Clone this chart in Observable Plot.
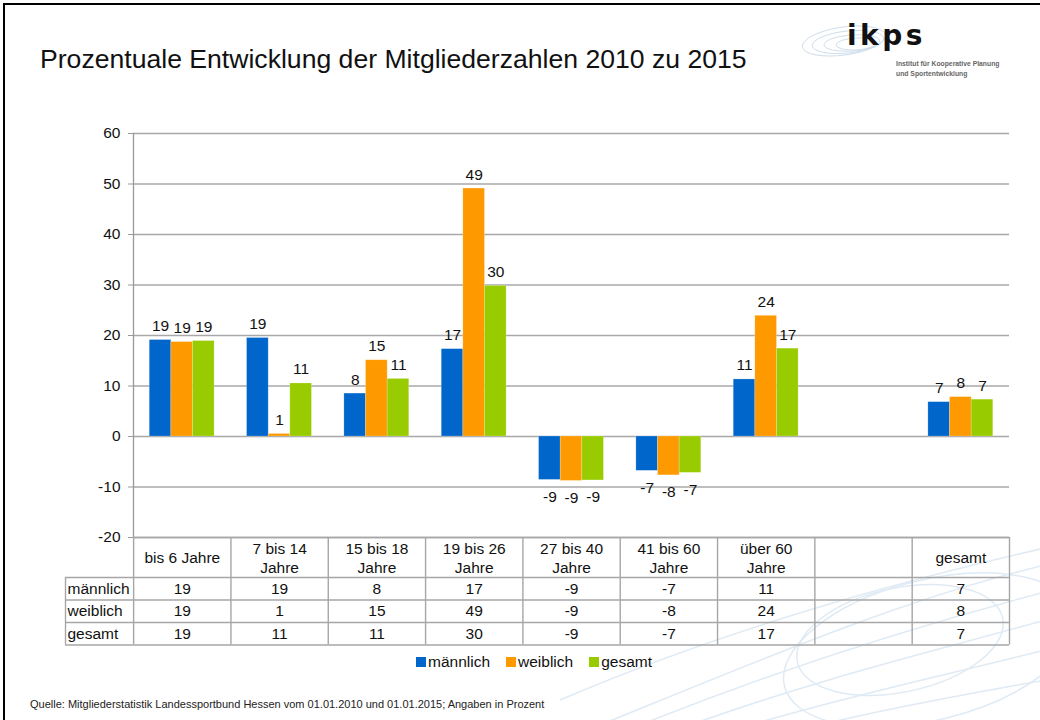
<!DOCTYPE html>
<html><head><meta charset="utf-8">
<script src="https://cdn.jsdelivr.net/npm/d3@7"></script>
<script src="https://cdn.jsdelivr.net/npm/@observablehq/plot@0.6"></script>
<style>
body{margin:0;background:#fff;font-family:"Liberation Sans",Arial,sans-serif;}
#page{position:relative;width:1040px;height:720px;overflow:hidden;background:#fff;}
#bg{position:absolute;left:0;top:0;}
#title{position:absolute;left:40px;top:44px;font-size:26.6px;color:#111;white-space:nowrap;}
#logo{position:absolute;left:800px;top:10px;width:240px;height:80px;}
#chart{position:absolute;left:0;top:100px;}
#table{position:absolute;left:0;top:536px;}
#legend{position:absolute;left:416px;top:653px;display:flex;align-items:center;font-size:15.5px;color:#111;}
#legend .it{display:flex;align-items:center;margin-right:16px;}
#legend .sw{width:10px;height:10px;margin-right:2px;}
#source{position:absolute;left:30px;top:698px;font-size:11px;color:#222;white-space:nowrap;}
#border{position:absolute;left:3px;top:3px;width:1100px;height:800px;border-left:2px solid #000;border-top:2px solid #000;}
</style></head><body>
<div id="page">
  <svg id="bg" width="1040" height="720">
    <g fill="none" stroke="#b9d2e8" stroke-width="1.5" opacity="0.45">
      <path d="M600,725 C760,660 900,600 1045,565"/>
      <path d="M640,725 C790,665 920,625 1045,592"/>
      <path d="M690,725 C830,675 940,650 1045,620"/>
      <path d="M750,725 C870,690 960,672 1045,650"/>
      <path d="M820,725 C900,705 980,692 1045,680"/>
      <path d="M560,700 C700,640 860,590 1045,548"/>
      <ellipse cx="900" cy="640" rx="105" ry="52" transform="rotate(-12 900 640)"/>
      <ellipse cx="930" cy="650" rx="150" ry="70" transform="rotate(-14 930 650)"/>
    </g>
  </svg>
  <div id="border"></div>
  <div id="title">Prozentuale Entwicklung der Mitgliederzahlen 2010 zu 2015</div>
  <svg id="logo" width="240" height="80">
    <g fill="none" stroke="#b5cde2" stroke-width="0.9" opacity="0.7">
      <ellipse cx="48" cy="32" rx="36" ry="11" transform="rotate(-6 48 32)"/>
      <ellipse cx="52" cy="33" rx="28" ry="8" transform="rotate(-4 52 33)"/>
      <ellipse cx="44" cy="31" rx="42" ry="14" transform="rotate(-8 44 31)"/>
      <ellipse cx="56" cy="34" rx="20" ry="6" transform="rotate(-3 56 34)"/>
    </g>
    <text x="47" y="35" font-family="DejaVu Sans, sans-serif" font-weight="bold" font-size="28" letter-spacing="3.5" fill="#111">ikps</text>
    <text x="96" y="56" font-family="Liberation Sans, Arial, sans-serif" font-weight="bold" font-size="6.8" fill="#666">Institut für Kooperative Planung</text>
    <text x="96" y="66" font-family="Liberation Sans, Arial, sans-serif" font-weight="bold" font-size="6.8" fill="#666">und Sportentwicklung</text>
  </svg>
  <div id="chart"></div>
  <div id="table"></div>
  <div id="legend"></div>
  <div id="source">Quelle: Mitgliederstatistik Landessportbund Hessen vom 01.01.2010 und 01.01.2015; Angaben in Prozent</div>
</div>
<script>
// ---- data ----
const categories = ["bis 6 Jahre", "7 bis 14\nJahre", "15 bis 18\nJahre", "19 bis 26\nJahre", "27 bis 40\nJahre", "41 bis 60\nJahre", "über 60\nJahre", "", "gesamt"];
const seriesNames = ["männlich", "weiblich", "gesamt"];
const maennlich = [19.1, 19.5, 8.5, 17.3, -8.6, -6.8, 11.3, null, 6.8];
const weiblich  = [18.7, 0.5, 15.1, 49.1, -8.8, -7.7, 23.9, null, 7.8];
const gesamt    = [18.9, 10.5, 11.4, 29.8, -8.7, -7.2, 17.4, null, 7.3];
const labelsMaennlich = [19, 19, 8, 17, -9, -7, 11, null, 7];
const labelsWeiblich  = [19, 1, 15, 49, -9, -8, 24, null, 8];
const labelsGesamt    = [19, 11, 11, 30, -9, -7, 17, null, 7];
const yTicks = [-20, -10, 0, 10, 20, 30, 40, 50, 60];
const colors = ["#0066CC", "#FF9900", "#99CC00"];

const seriesValues = [maennlich, weiblich, gesamt];
const seriesLabels = [labelsMaennlich, labelsWeiblich, labelsGesamt];

// layout of a category slot (in slot units)
const groupOffset = 0.1667, barW = 0.2222;
const font = "Liberation Sans, Arial, sans-serif";

const rows = [];
categories.forEach((c, i) => {
  seriesNames.forEach((s, k) => {
    const v = seriesValues[k][i];
    if (v == null) return;
    rows.push({i, cat: c, series: s, k, value: v, label: seriesLabels[k][i]});
  });
});

const x1 = d => d.i + groupOffset + d.k * barW;
const x2 = d => d.i + groupOffset + (d.k + 1) * barW;
const xc = d => d.i + groupOffset + (d.k + 0.5) * barW;

const chart = Plot.plot({
  width: 1040, height: 447,
  marginTop: 33, marginBottom: 10, marginLeft: 133, marginRight: 31,
  style: {background: "transparent", fontFamily: font, fontSize: "15.5px", color: "#111", overflow: "visible"},
  x: {type: "linear", domain: [0, categories.length], axis: null},
  y: {domain: [-20, 60], axis: null},
  color: {domain: seriesNames, range: colors},
  marks: [
    Plot.ruleY(yTicks, {stroke: "#a8a8a8", strokeWidth: 1.3}),
    Plot.axisY({ticks: yTicks, label: null, tickSize: 5, tickPadding: 8, tickFormat: d => String(d), stroke: "#999", fontSize: 15.5, fill: "#111"}),
    Plot.ruleX([0], {y1: -20, y2: 60, stroke: "#999", strokeWidth: 1.3}),
    Plot.rectY(rows, {x1, x2, y1: 0, y2: "value", fill: "series", stroke: "#fff", strokeOpacity: 0.35, strokeWidth: 0.6}),
    Plot.text(rows.filter(d => d.value >= 0), {x: xc, y: "value", text: d => String(d.label), dy: -14, fontSize: 15.5, fill: "#111"}),
    Plot.text(rows.filter(d => d.value < 0), {x: xc, y: "value", text: d => String(d.label), dy: 17, fontSize: 15.5, fill: "#111"})
  ]
});
document.getElementById("chart").appendChild(chart);

// ---- table ----
const rowLabelWidth = 0.7;           // slot units
const headerUnits = 1.78;            // header height in row units
const rowBounds = [0, headerUnits, headerUnits + 1, headerUnits + 2, headerUnits + 3];
const tableRows = seriesNames.map((s, k) => ({name: s, k, labels: seriesLabels[k]}));

const hLines = rowBounds.map((b, j) => ({y: b, x1: j === 0 ? 0 : -rowLabelWidth, x2: categories.length}));
const vLines = d3.range(categories.length + 1).map(i => ({x: i, y1: 0, y2: rowBounds[4]}));
vLines.push({x: -rowLabelWidth, y1: headerUnits, y2: rowBounds[4]});

const cells = [];
tableRows.forEach(r => r.labels.forEach((v, i) => {
  if (v == null) return;
  cells.push({i, row: r.k, text: String(v)});
}));

const table = Plot.plot({
  width: 1040, height: 110,
  marginTop: 1, marginBottom: 1.5, marginLeft: 65, marginRight: 31,
  style: {background: "transparent", fontFamily: font, fontSize: "15.5px", color: "#111", overflow: "visible"},
  x: {type: "linear", domain: [-rowLabelWidth, categories.length], axis: null},
  y: {type: "linear", domain: [0, rowBounds[4]], reverse: true, axis: null},
  marks: [
    Plot.ruleY(hLines, {y: "y", x1: "x1", x2: "x2", stroke: "#a6a6a6", strokeWidth: 1.4}),
    Plot.ruleX(vLines, {x: "x", y1: "y1", y2: "y2", stroke: "#a6a6a6", strokeWidth: 1.4}),
    Plot.text(categories.map((c, i) => ({c, i})), {x: d => d.i + 0.5, y: headerUnits / 2, text: "c", lineHeight: 1.19, fontSize: 15.5, fill: "#111"}),
    Plot.text(tableRows, {x: -rowLabelWidth, y: d => headerUnits + d.k + 0.5, text: "name", textAnchor: "start", dx: 2, fontSize: 15.5, fill: "#111"}),
    Plot.text(cells, {x: d => d.i + 0.5, y: d => headerUnits + d.row + 0.5, text: "text", fontSize: 15.5, fill: "#111"})
  ]
});
document.getElementById("table").appendChild(table);

// ---- legend ----
const legend = document.getElementById("legend");
seriesNames.forEach((s, k) => {
  const it = document.createElement("div");
  it.className = "it";
  const sw = document.createElement("div");
  sw.className = "sw";
  sw.style.background = colors[k];
  const t = document.createElement("span");
  t.textContent = s;
  it.appendChild(sw); it.appendChild(t);
  legend.appendChild(it);
});
</script>
</body></html>
